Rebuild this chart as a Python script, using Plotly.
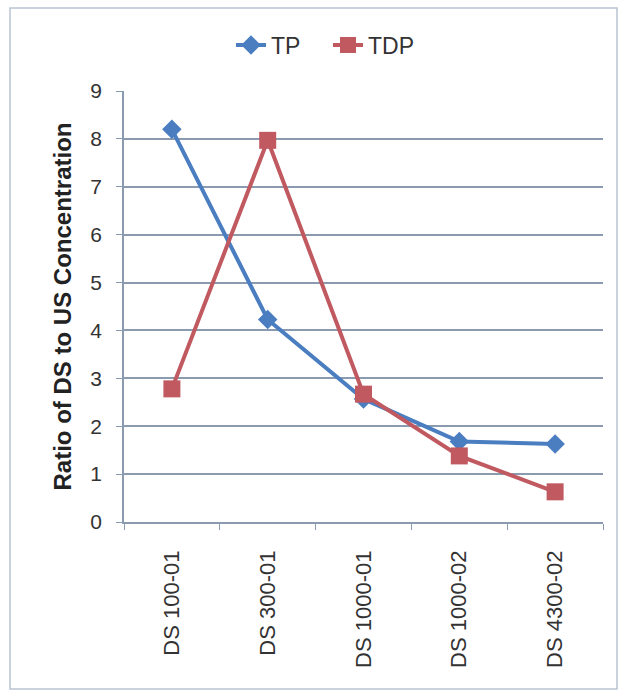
import plotly.graph_objects as go

# Sampling sites and downstream/upstream concentration ratios
sites = ["DS 100-01", "DS 300-01", "DS 1000-01", "DS 1000-02", "DS 4300-02"]
tp_ratio = [8.2, 4.23, 2.57, 1.68, 1.63]
tdp_ratio = [2.78, 7.97, 2.67, 1.38, 0.63]
y_ticks = [0, 1, 2, 3, 4, 5, 6, 7, 8, 9]

W, H = 620, 692
L, R, T, B = 124, 17, 91, 170

fig = go.Figure()
fig.add_trace(go.Scatter(
    x=sites, y=tp_ratio, name="TP", mode="lines+markers",
    line=dict(color="#4A7EC0", width=4),
    marker=dict(symbol="diamond", size=15, color="#4A7EC0"),
))
fig.add_trace(go.Scatter(
    x=sites, y=tdp_ratio, name="TDP", mode="lines+markers",
    line=dict(color="#C05960", width=4),
    marker=dict(symbol="square", size=17, color="#C05960"),
))

pw, ph = W - L - R, H - T - B
def px(x):
    return (x - L) / pw
def py(y):
    return (H - B - y) / ph

# outer chart frame
fig.add_shape(type="rect", xref="paper", yref="paper",
              x0=px(10), x1=px(617), y0=py(689), y1=py(8),
              line=dict(color="#B8C4D2", width=1.5))

fig.update_layout(
    width=W, height=H,
    margin=dict(l=L, r=R, t=T, b=B),
    paper_bgcolor="white", plot_bgcolor="white",
    font=dict(family="Liberation Sans, Arial, sans-serif", color="#333333"),
    showlegend=True,
    legend=dict(orientation="h", x=px(328), xanchor="center", y=py(45), yanchor="middle",
                font=dict(size=23, color="#333333"), entrywidth=52,
                bgcolor="rgba(0,0,0,0)"),
    xaxis=dict(
        type="category", tickson="boundaries", ticks="outside", ticklen=6,
        tickcolor="#8A9BB0", showline=True, linecolor="#8A9BB0", linewidth=1.5,
        showgrid=False, tickangle=-90, tickfont=dict(size=22, color="#333333"),
        ticklabelstandoff=18, range=[-0.5, 4.5],
    ),
    yaxis=dict(
        range=[0, 9], tickvals=y_ticks, ticks="outside", ticklen=6,
        tickcolor="#8A9BB0", showline=True, linecolor="#8A9BB0", linewidth=1.5,
        showgrid=True, gridcolor="#8A9BB0", gridwidth=1.5,
        tickfont=dict(size=21, color="#333333"), zeroline=False,
        ticklabelstandoff=10,
        title=dict(text="<b>Ratio of DS to US Concentration</b>",
                   font=dict(size=24, color="#222222"), standoff=12),
    ),
)

fig.write_html("out.html")
